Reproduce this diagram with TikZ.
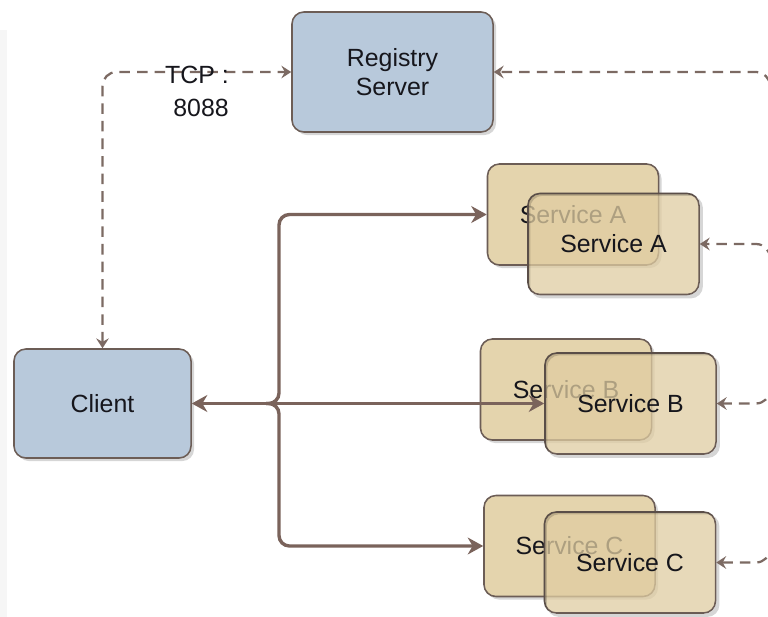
\documentclass[tikz,border=0pt]{standalone}
\usepackage{fontspec}
\setmainfont{Liberation Sans}
\usetikzlibrary{arrows.meta,shadows}

\definecolor{boxblue}{RGB}{184,201,219}
\definecolor{boxtan}{RGB}{228,212,173}
\definecolor{fronttan}{RGB}{224,205,162}
\definecolor{edgebrown}{RGB}{108,93,86}
\definecolor{linkbrown}{RGB}{122,99,91}
\definecolor{dashbrown}{RGB}{124,106,99}
\definecolor{textdark}{RGB}{22,22,28}
\definecolor{stripgray}{RGB}{246,246,246}

\tikzset{
  boxbase/.style={rectangle, rounded corners=0.3cm, draw=edgebrown, line width=1.1pt,
    text=textdark, align=center, inner sep=0pt,
    font=\fontsize{17.7}{20.5}\selectfont},
  shadowed/.style={drop shadow={shadow xshift=2.2pt, shadow yshift=-2.2pt,
    fill=black, opacity=0.16}},
  hostbox/.style={boxbase, shadowed, fill=boxblue},
  svcback/.style={boxbase, shadowed, fill=boxtan, minimum width=4.275cm, minimum height=2.525cm},
  svcfront/.style={boxbase, fill=fronttan, fill opacity=0.75, draw opacity=1, text opacity=1,
    minimum width=4.275cm, minimum height=2.525cm},
  calltip/.tip={Stealth[length=11pt,width=12pt,inset=3.5pt]},
  regtip/.tip={Stealth[length=7pt,width=9pt,inset=2.5pt]},
  calllink/.style={draw=linkbrown, line width=2.4pt, rounded corners=0.26cm, -{calltip}},
  reglink/.style={draw=dashbrown, line width=1.6pt, dash pattern=on 7.5pt off 5pt,
    rounded corners=0.35cm},
}

% shadow of a see-through box: only the part that sticks out past the box
\newcommand\ringshadow[1]{%
  \fill[black, opacity=0.16, even odd rule, rounded corners=0.3cm]
    ([shift={(2.2pt,-2.2pt)}]#1.south west) rectangle ([shift={(2.2pt,-2.2pt)}]#1.north east)
    (#1.south west) rectangle (#1.north east);}

\begin{document}
\begin{tikzpicture}[x=0.025cm, y=-0.025cm]
  \path[use as bounding box, clip] (0,0) rectangle (768,617);
  \fill[white] (0,0) rectangle (768,617);
  \fill[stripgray] (0,30) rectangle (7,617);

  % registry and client
  \node[hostbox, minimum width=5.025cm, minimum height=3.0cm] (reg) at (392.5,72) {Registry\\Server};
  \node[hostbox, minimum width=4.425cm, minimum height=2.725cm] (client) at (102.5,403.5) {Client};

  % service instances, two per service
  \node[svcback] (sAb) at (573,214.5) {Service A};
  \node[svcback] (sBb) at (566,389.5) {Service B};
  \node[svcback] (sCb) at (569.5,546) {Service C};
  \node[svcfront] (sAf) at (613.5,244) {Service A};
  \node[svcfront] (sBf) at (630.5,403.5) {Service B};
  \node[svcfront] (sCf) at (630,562.5) {Service C};
  \ringshadow{sAf}
  \ringshadow{sBf}
  \ringshadow{sCf}

  % client calls fanning out to the services
  \coordinate (j) at (266,403.5);
  \coordinate (jx) at (279,403.5);
  \draw[calllink] (j) -- (client.east);
  \draw[calllink] (j) -- (jx) |- (sAb.west);
  \draw[calllink] (j) -- (j -| sBf.west);
  \draw[calllink] (j) -- (jx) |- (sCb.west);

  % discovery link between client and registry
  \draw[reglink, {regtip}-{regtip}] (client.north) |- (reg.west);
  \node[anchor=east, align=right, inner sep=0pt, text=textdark,
        font=\fontsize{17.7}{23.4}\selectfont] (tcp) at (229,91) {TCP :\\8088};

  % registration links from the service side
  \coordinate (rail) at (770,330);
  \draw[reglink, -{regtip}] (rail) |- (reg.east);
  \draw[reglink, -{regtip}] (rail) |- (sAf.east);
  \draw[reglink, -{regtip}] (rail) |- (sBf.east);
  \draw[reglink, -{regtip}] (rail) |- (sCf.east);
\end{tikzpicture}
\end{document}
